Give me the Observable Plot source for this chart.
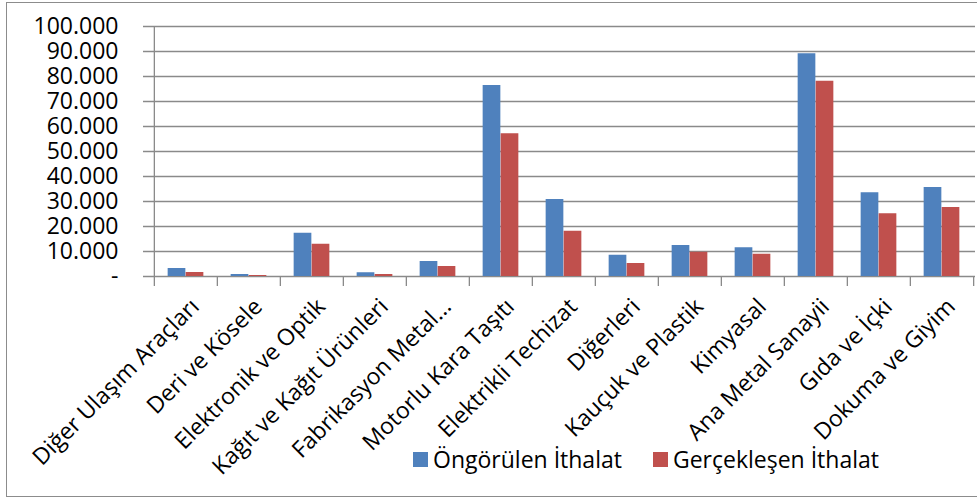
<!DOCTYPE html>
<html><head><meta charset="utf-8">
<script src="https://cdn.jsdelivr.net/npm/d3@7"></script>
<script src="https://cdn.jsdelivr.net/npm/@observablehq/plot@0.6"></script>
<style>
html,body{margin:0;padding:0;background:#fff;}
#wrap{position:relative;width:977px;height:500px;overflow:hidden;font-family:"Open Sans",sans-serif;color:#000;}
#chart{position:absolute;left:0;top:0;}
#frame{position:absolute;left:6px;top:2px;width:980px;height:495px;border:1.5px solid #8c8c8c;pointer-events:none;box-sizing:border-box;}
#legend{position:absolute;left:413px;top:443px;display:flex;align-items:center;font-size:23px;line-height:32px;white-space:nowrap;}
.item{display:flex;align-items:center;margin-right:31px;}
.sw{width:15px;height:15px;display:inline-block;margin-right:5px;}
</style></head><body>
<div id="wrap"><div id="chart"></div><div id="frame"></div><div id="legend"></div></div>
<script>
const categories = ["Diğer Ulaşım Araçları", "Deri ve Kösele", "Elektronik ve Optik", "Kağıt ve Kağıt Ürünleri", "Fabrikasyon Metal...", "Motorlu Kara Taşıtı", "Elektrikli Techizat", "Diğerleri", "Kauçuk ve Plastik", "Kimyasal", "Ana Metal Sanayii", "Gıda ve İçki", "Dokuma ve Giyim"];
const ongorulen = [3200, 800, 17300, 1500, 6000, 76400, 30800, 8500, 12400, 11500, 89100, 33500, 35600];
const gerceklesen = [1600, 400, 12900, 800, 4000, 57100, 18100, 5200, 9700, 8900, 78100, 25100, 27600];
const seriesNames = ["Öngörülen İthalat", "Gerçekleşen İthalat"];
const seriesColors = ["#4F81BD", "#C0504D"];
const yTicks = [0, 10000, 20000, 30000, 40000, 50000, 60000, 70000, 80000, 90000, 100000];
const yTickLabels = ["-", "10.000", "20.000", "30.000", "40.000", "50.000", "60.000", "70.000", "80.000", "90.000", "100.000"];

const W = 977, H = 500, mL = 152, mR = 2, mT = 26, mB = 224;
const bw = (W - mL - mR) / categories.length;
const barW = 18;
const gap = (bw - 2 * barW) / 2;

const rows1 = categories.map((c, i) => ({c, v: ongorulen[i]}));
const rows2 = categories.map((c, i) => ({c, v: gerceklesen[i]}));

const chart = Plot.plot({
  width: W, height: H,
  marginLeft: mL, marginRight: mR, marginTop: mT, marginBottom: mB,
  style: {fontFamily: "Open Sans", fontSize: "23px", color: "#000", background: "transparent"},
  x: {domain: categories, paddingInner: 0, paddingOuter: 0, axis: null},
  y: {domain: [0, 100000], axis: null},
  marks: [
    Plot.gridY(yTicks, {stroke: "#8a8a8a", strokeOpacity: 1, strokeWidth: 1.3, insetLeft: -9}),
    Plot.axisY(yTicks, {label: null, tickSize: 0, tickPadding: 34, tickFormat: (d) => yTickLabels[yTicks.indexOf(d)], fontSize: 23, fill: "#000"}),
    Plot.barY(rows1, {x: "c", y: "v", fill: seriesColors[0], insetLeft: gap, insetRight: gap + barW}),
    Plot.barY(rows2, {x: "c", y: "v", fill: seriesColors[1], insetLeft: gap + barW, insetRight: gap}),
    Plot.ruleX(categories, {x: d => d, y1: () => 0, y2: () => 0, dx: -bw / 2, insetBottom: -10, stroke: "#8a8a8a", strokeWidth: 1.3}),
    Plot.ruleX(categories.slice(-1), {x: d => d, y1: () => 0, y2: () => 0, dx: bw / 2, insetBottom: -10, stroke: "#8a8a8a", strokeWidth: 1.3}),
    Plot.ruleX(categories.slice(0, 1), {x: d => d, y1: () => 0, y2: () => 100000, dx: -bw / 2, stroke: "#8a8a8a", strokeWidth: 1.3}),
    Plot.text(categories, {x: d => d, y: () => 0, text: d => d, rotate: -45, textAnchor: "end", lineAnchor: "top", dx: 3, dy: 20, fontSize: 23, fill: "#000"})
  ]
});
document.getElementById("chart").appendChild(chart);

const legend = document.getElementById("legend");
seriesNames.forEach((name, i) => {
  const item = document.createElement("span");
  item.className = "item";
  const sw = document.createElement("span");
  sw.className = "sw";
  sw.style.background = seriesColors[i];
  item.appendChild(sw);
  item.appendChild(document.createTextNode(name));
  legend.appendChild(item);
});
</script>
</body></html>
